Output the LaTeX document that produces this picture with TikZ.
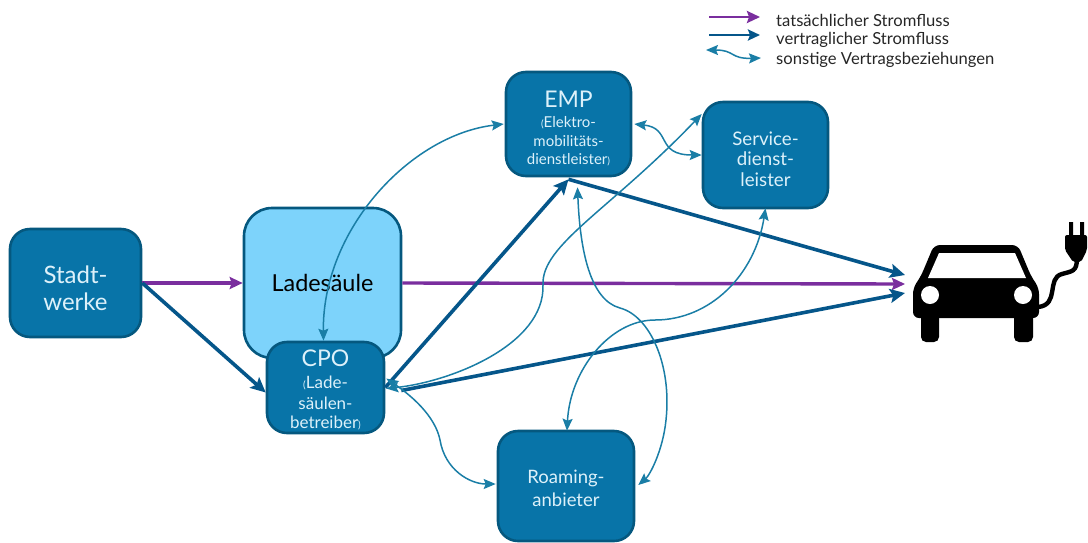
\documentclass[tikz,border=0pt]{standalone}
\usepackage{fontspec}
\setmainfont{Lato}
\usetikzlibrary{arrows.meta}
\definecolor{boxfill}{HTML}{0874A8}
\definecolor{boxline}{HTML}{05587F}
\definecolor{lightfill}{HTML}{7DD3FB}
\definecolor{stromcol}{HTML}{7A2E9E}
\definecolor{vertragcol}{HTML}{05568A}
\definecolor{thincol}{HTML}{1A7EA6}
\definecolor{boxtext}{HTML}{DDF1FA}
\newcommand{\fs}[1]{\fontsize{#1}{#1}\selectfont}
\newcommand{\lp}{{\fs{10}(}}
\newcommand{\rp}{{\fs{10})}}
\newcommand{\up}[1]{\rule{0pt}{#1}}
\tikzset{
  box/.style={draw=boxline,fill=boxfill,line width=2.6pt,rounded corners=20pt,text=boxtext,align=center,inner sep=0pt},
  strom/.style={draw=stromcol,line width=3.4pt,-{Stealth[length=13pt,width=12pt,inset=2pt]}},
  vertrag/.style={draw=vertragcol,line width=3.6pt,-{Stealth[length=15pt,width=14pt,inset=3pt]}},
  sonst/.style={draw=thincol,line width=1.5pt,{Stealth[length=12pt,width=10pt,inset=2pt]}-{Stealth[length=12pt,width=10pt,inset=2pt]}},
  legend/.style={anchor=west,inner sep=0pt,text=black!85,font=\fs{16.6}},
}
\begin{document}
\begin{tikzpicture}[x=1pt,y=-1pt]
\useasboundingbox (0,0) rectangle (1088,542);
% boxes
\node[box,minimum width=131pt,minimum height=108pt,font=\fs{24}] (stadt) at (75.5,283) {\up{28pt}Stadt-\\[3pt]werke};
\node[box,fill=lightfill,rounded corners=28pt,minimum width=157pt,minimum height=150pt,text=black,font=\fs{23.4}] (saeule) at (322.5,283) {Ladesäule};
\node[box,minimum width=117pt,minimum height=91pt] (cpo) at (325.5,387.5) {{\fs{23}\up{22pt}CPO}\\[8pt]{\fs{17}\lp Lade-}\\[6pt]{\fs{17}säulen-}\\[6pt]{\fs{17}betreiber\rp}};
\node[box,minimum width=125pt,minimum height=104pt] (emp) at (568.5,124) {{\fs{23}\up{25pt}EMP}\\[8pt]{\fs{15}\lp Elektro-}\\[6pt]{\fs{15}mobilitäts-}\\[6pt]{\fs{15}dienstleister\rp}};
\node[box,minimum width=125pt,minimum height=106pt,font=\fs{18.7}] (service) at (765.5,155) {\up{22pt}Service-\\[2pt]dienst-\\[2pt]leister};
\node[box,minimum width=136pt,minimum height=110pt,font=\fs{18.5}] (roaming) at (566,486) {\up{18pt}Roaming-\\[4.5pt]anbieter};
\coordinate (car) at (905,284);
% thick connectors
\draw[strom] (stadt.east) -- (saeule.west);
\draw[strom] (saeule.east) -- (car);
\draw[vertrag] (stadt.east) -- ([yshift=-5pt]cpo.west);
\draw[vertrag] (cpo.east) -- ([yshift=-2pt]emp.south);
\draw[vertrag] ([yshift=-2pt]emp.south) -- ([yshift=9pt]car);
\draw[vertrag] ([xshift=16pt,yshift=-3pt]cpo.east) -- ([yshift=-9pt]car);
% thin connectors
\draw[sonst] ([xshift=-1pt]emp.west) .. controls (410,135) and (322,230) .. ([xshift=-2pt]cpo.north);
\draw[sonst] ([xshift=2pt]emp.east) .. controls (672,128) and (655,155) .. (service.west);
\draw[sonst] ([xshift=1pt,yshift=-1pt]cpo.east) .. controls (450,382) and (545,345) .. (543,285) .. controls (541,245) and (610,210) .. ([yshift=41pt]service.west);
\draw[sonst] ([xshift=1pt,yshift=9pt]cpo.east) .. controls (425,405) and (437,425) .. (440,440) .. controls (445,470) and (470,484) .. ([xshift=-1pt,yshift=2pt]roaming.west);
\draw[sonst] ([yshift=1pt]service.south) .. controls (755,275) and (710,320) .. (655,320) .. controls (610,320) and (570,370) .. ([xshift=1pt,yshift=-1pt]roaming.north);
\draw[sonst] ([xshift=9pt,yshift=-10pt]emp.south) .. controls (580,250) and (590,300) .. (620,308) .. controls (650,316) and (672,365) .. (666,420) .. controls (663,450) and (650,475) .. ([xshift=3pt,yshift=1pt]roaming.east);
% legend
\coordinate (l1a) at (709,17); \coordinate (l1b) at (760,17);
\coordinate (l2a) at (709,35); \coordinate (l2b) at (760,35);
\coordinate (l3a) at (706,50); \coordinate (l3b) at (761,58);
\draw[strom,line width=2.6pt] (l1a) -- (l1b);
\draw[vertrag,line width=2.6pt,-{Stealth[length=12pt,width=11pt,inset=2pt]}] (l2a) -- (l2b);
\draw[sonst] (l3a) .. controls (735,50) and (730,59) .. (l3b);
\node[legend] (t1) at (776,20) {tatsächlicher Stromfluss};
\node[legend] (t2) at (776,40) {vertraglicher Stromfluss};
\node[legend] (t3) at (776,60) {sonstige Vertragsbeziehungen};
% car
\fill[black,rounded corners=5pt] (921,312) rectangle (939,342);
\fill[black,rounded corners=5pt] (1014,312) rectangle (1033,342);
\fill[black,rounded corners=6pt] (913,318) -- (913,288) -- (921,276) -- (934,245) -- (1018,245) -- (1031,276) -- (1039,288) -- (1039,318) -- cycle;
\fill[white] (939,253) -- (1015,253) -- (1026,278) -- (928,278) -- cycle;
\fill[white] (930,295) circle (9pt) (1023,295) circle (9pt);
\draw[black,line width=4.4pt] (1038,307) .. controls (1060,305) and (1046,278) .. (1062,274) .. controls (1072,271) and (1077,272) .. (1077,258);
\fill[black,rounded corners=2pt] (1065,235) -- (1087,235) -- (1087,250) -- (1081,262) -- (1073,262) -- (1065,250) -- cycle;
\fill[black] (1069,222) rectangle (1073,236) (1080,222) rectangle (1084,236);
\end{tikzpicture}
\end{document}
